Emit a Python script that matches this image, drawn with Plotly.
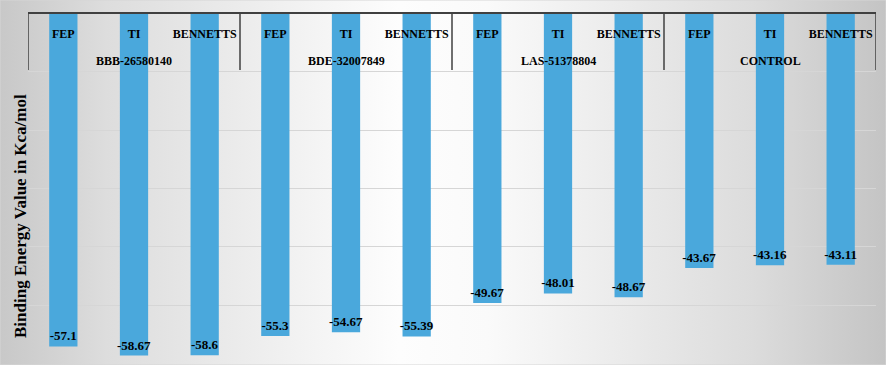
import plotly.graph_objects as go

groups = ["BBB-26580140", "BDE-32007849", "LAS-51378804", "CONTROL"]
methods = ["FEP", "TI", "BENNETTS"]
values = [-57.1, -58.67, -58.6,
          -55.3, -54.67, -55.39,
          -49.67, -48.01, -48.67,
          -43.67, -43.16, -43.11]
y_title = "Binding Energy Value in Kca/mol"

W, H = 886, 365
L, R, T, B = 28, 10, 13.5, 4
FONT = "Liberation Serif"

n = len(values)
xs = list(range(n))
ticktext = [methods[i % 3] for i in xs]

fig = go.Figure()

# background gradient (decorative) on full-paper axes
fig.add_trace(go.Scatter(
    x=[0, 1, 1, 0, 0], y=[0, 0, 1, 1, 0], xaxis="x", yaxis="y",
    mode="lines", line=dict(width=0), fill="toself",
    fillgradient=dict(type="horizontal",
                      colorscale=[[0, "#c8c8c8"], [0.12, "#dddddd"], [0.45, "#fdfdfd"],
                                  [0.55, "#fafafa"], [0.85, "#dcdcdc"], [1, "#c4c4c4"]]),
    hoverinfo="skip", showlegend=False))

fig.add_trace(go.Bar(
    x=xs, y=values, xaxis="x2", yaxis="y2",
    marker=dict(color="#4aa8dc", line=dict(width=0)),
    width=0.4,
    text=[f"{v:g}" for v in values],
    textposition="inside", insidetextanchor="end", constraintext="none",
    textangle=0,
    textfont=dict(family=FONT, size=13, color="black", weight="bold"),
    showlegend=False))

# group labels
for g, name in enumerate(groups):
    fig.add_annotation(x=g * 3 + 1, xref="x2", y=1 - 61 / H, yref="paper",
                       text=name, showarrow=False, yanchor="middle",
                       font=dict(family=FONT, size=12, color="black", weight="bold"))

# group dividers
for g in range(len(groups) + 1):
    fig.add_shape(type="line", xref="x2", yref="y2", x0=g * 3 - 0.5, x1=g * 3 - 0.5,
                  y0=0, y1=-(70 - T) / 5.83, line=dict(color="#404040", width=1.5))

fig.add_annotation(x=20 / W, xref="paper", y=1 - 216 / H, yref="paper",
                   text=y_title, textangle=-90, showarrow=False,
                   xanchor="center", yanchor="middle",
                   font=dict(family=FONT, size=17, color="black", weight="bold"))

fig.add_shape(type="rect", xref="paper", yref="paper", x0=0, x1=1, y0=0, y1=1,
              line=dict(color="#d6d6d6", width=1))

fig.update_layout(
    width=W, height=H,
    margin=dict(l=0, r=0, t=0, b=0, autoexpand=False),
    paper_bgcolor="white", plot_bgcolor="rgba(0,0,0,0)",
    xaxis=dict(domain=[0, 1], range=[0, 1], visible=False, fixedrange=True),
    yaxis=dict(domain=[0, 1], range=[0, 1], visible=False, fixedrange=True),
    xaxis2=dict(domain=[L / W, 1 - R / W], anchor="y2", side="top",
                range=[-0.5, n - 0.5], tickvals=xs, ticktext=ticktext,
                ticklabelposition="inside", ticks="inside", ticklen=16,
                tickcolor="rgba(0,0,0,0)", automargin=False,
                showline=True, linecolor="#404040", linewidth=2,
                showgrid=False, zeroline=False,
                tickfont=dict(family=FONT, size=12, color="black", weight="bold")),
    yaxis2=dict(domain=[B / H, 1 - T / H], anchor="x2", automargin=False,
                range=[-59.6, 0], dtick=10, showticklabels=False,
                showgrid=True, gridcolor="#d6d6d6", gridwidth=1,
                zeroline=False, showline=False),
    bargap=0.6,
)

fig.write_html("out.html", config={"displayModeBar": False},
               post_script="document.body.style.margin='0';")
